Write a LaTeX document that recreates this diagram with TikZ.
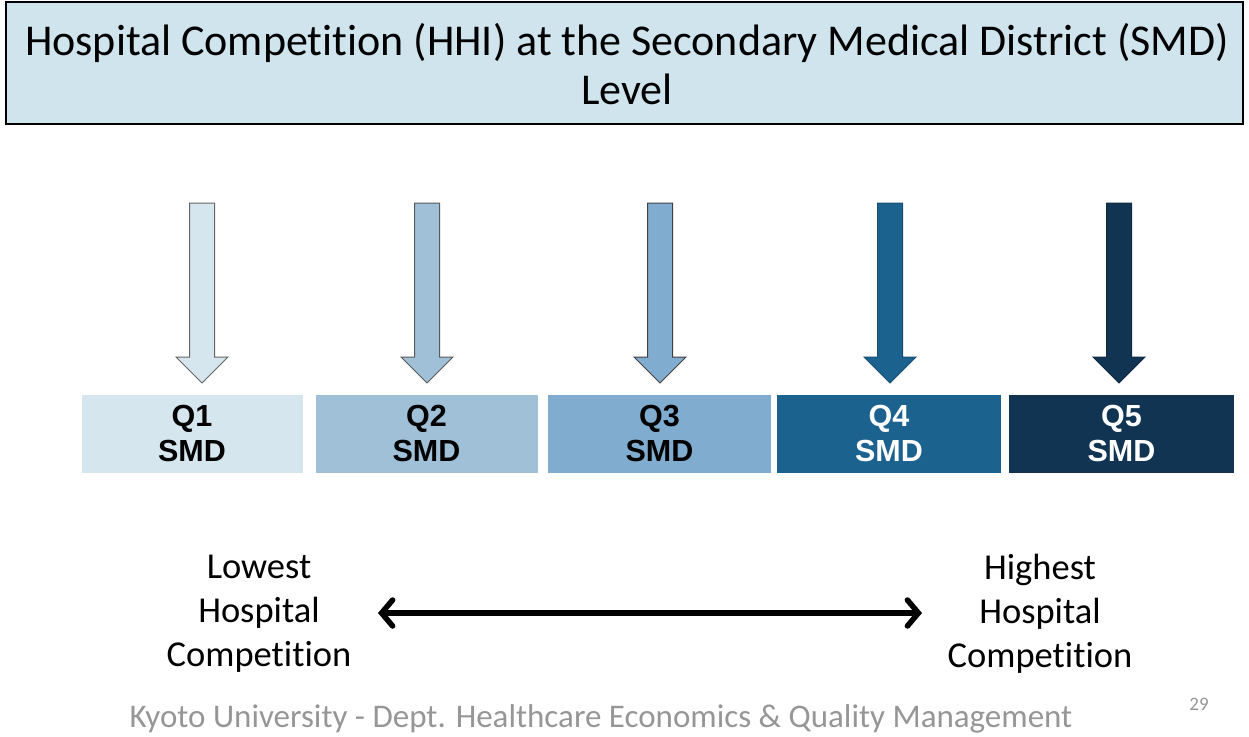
\documentclass[tikz,border=0pt]{standalone}
\usepackage{fontspec}
\setmainfont[Ligatures={NoCommon}]{Carlito}
\newfontfamily\arialfont{Liberation Sans}
\usetikzlibrary{arrows.meta}
\definecolor{titlefill}{RGB}{208,228,238}
\definecolor{qa}{RGB}{214,230,239}
\definecolor{qb}{RGB}{160,192,215}
\definecolor{qc}{RGB}{128,172,207}
\definecolor{qd}{RGB}{28,98,142}
\definecolor{qe}{RGB}{16,52,82}
\definecolor{footgray}{RGB}{150,150,150}
\newcommand\blkarrow[3]{%
  \filldraw[fill=#2,draw=#3,line width=1pt,line join=miter]
    (#1-12.5,203) -- (#1+12.5,203) -- (#1+12.5,357) -- (#1+26,357)
    -- (#1,383) -- (#1-26,357) -- (#1-12.5,357) -- cycle;}
\begin{document}
\begin{tikzpicture}[x=1pt,y=-1pt,
  qbox/.style={minimum height=78pt,inner sep=0pt,align=center,
    font=\arialfont\bfseries\fontsize{30.5}{35}\selectfont},
  sidetext/.style={align=center,font=\fontsize{36.5}{44}\selectfont},
  titlebox/.style={draw=black,line width=2pt,fill=titlefill}]
\useasboundingbox (0,0) rectangle (1249,736);
% title
\node[titlebox,minimum width=1237pt,minimum height=122pt,inner sep=0pt] (title) at (624.5,63) {};
\node[align=center,font=\fontsize{44}{49}\selectfont] (titletext) at (627,64)
  {Hospital Competition (HHI) at the Secondary Medical District (SMD)\\Level};
% block arrows
\blkarrow{202}{qa}{gray!80!black}
\blkarrow{427}{qb}{gray!70!black}
\blkarrow{660}{qc}{gray!50!black}
\blkarrow{890}{qd}{qd!80!black}
\blkarrow{1119}{qe}{qe!80!black}
% quintile boxes
\node[qbox,fill=qa,minimum width=221pt,text=black] (q1) at (192,433.5) {Q1\\SMD};
\node[qbox,fill=qb,minimum width=222pt,text=black] (q2) at (426.5,433.5) {Q2\\SMD};
\node[qbox,fill=qc,minimum width=223pt,text=black] (q3) at (659.5,433.5) {Q3\\SMD};
\node[qbox,fill=qd,minimum width=224pt,text=white] (q4) at (889,433.5) {Q4\\SMD};
\node[qbox,fill=qe,minimum width=225pt,text=white] (q5) at (1121.5,433.5) {Q5\\SMD};
% bottom scale
\node[sidetext] (low) at (259,614) {Lowest\\Hospital\\Competition};
\node[sidetext] (high) at (1040,614) {Highest\\Hospital\\Competition};
\coordinate (la) at (378,613);
\coordinate (ra) at (922,613);
\draw[line width=5.5pt,{Straight Barb[length=11pt,width=26pt,line cap=round]}-{Straight Barb[length=11pt,width=26pt,line cap=round]}] (la) -- (ra);
% footer
\node[text=footgray,font=\fontsize{33}{36}\selectfont,anchor=base] (foot) at (601,727) {Kyoto University - Dept. Healthcare Economics \& Quality Management};
\node[text=footgray,font=\fontsize{19}{22}\selectfont,anchor=base] (page) at (1199,710) {29};
\end{tikzpicture}
\end{document}
